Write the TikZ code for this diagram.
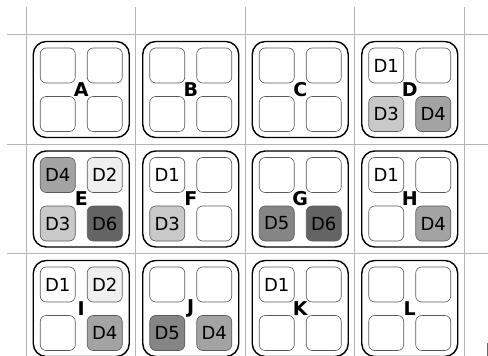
\documentclass[tikz,border=0pt]{standalone}
\usepackage{fontspec}
\setmainfont{DejaVu Sans}
\usetikzlibrary{calc}
\definecolor{cdtwo}{HTML}{EFEFEF}
\definecolor{cdthree}{HTML}{C9C9C9}
\definecolor{cdfour}{HTML}{A3A3A3}
\definecolor{cdfive}{HTML}{858585}
\definecolor{cdsix}{HTML}{646464}
\definecolor{gridc}{HTML}{B4B4B4}
\tikzset{
  gridline/.style={draw=gridc, line width=0.8pt},
  outerbox/.style={draw=black, line width=1.4pt, rounded corners=13pt, minimum width=96pt, minimum height=96pt, inner sep=0pt},
  smallbox/.style={draw=black!65, line width=0.6pt, rounded corners=6pt, minimum width=35pt, minimum height=35pt, inner sep=0pt, font=\fontsize{18}{21}\selectfont, fill=white},
  d0/.style={smallbox},
  d1/.style={smallbox},
  d2/.style={smallbox, fill=cdtwo},
  d3/.style={smallbox, fill=cdthree},
  d4/.style={smallbox, fill=cdfour},
  d5/.style={smallbox, fill=cdfive},
  d6/.style={smallbox, fill=cdsix},
  letterlab/.style={font=\fontsize{19}{22}\selectfont\bfseries, inner sep=0pt}
}
\newcommand\mylab[1]{\ifnum#1=0\relax\else D#1\fi}
\newcommand\mycell[7]{%
  \node[outerbox] (#3) at ({26+109.5*#1+55.25},{34.5+109.5*#2+55}) {};
  \node[d#4] (#3tl) at ($(#3)+(-23.5,-24)$) {\mylab{#4}};
  \node[d#5] (#3tr) at ($(#3)+(23.5,-24)$) {\mylab{#5}};
  \node[d#6] (#3bl) at ($(#3)+(-23.5,24.5)$) {\mylab{#6}};
  \node[d#7] (#3br) at ($(#3)+(23.5,24.5)$) {\mylab{#7}};
  \node[letterlab] (#3lab) at (#3) {#3};
}
\begin{document}
\begin{tikzpicture}[x=1pt,y=-1pt]
\useasboundingbox (0,0) rectangle (488,356);
\fill[white] (0,0) rectangle (488,356);
\foreach \k in {0,...,4} {
  \draw[gridline] ({26+109.5*\k},7) -- ({26+109.5*\k},356);
}
\foreach \k in {0,...,2} {
  \draw[gridline] (7,{34.5+109.5*\k}) -- (488,{34.5+109.5*\k});
}
\mycell{0}{0}{A}{0}{0}{0}{0}
\mycell{1}{0}{B}{0}{0}{0}{0}
\mycell{2}{0}{C}{0}{0}{0}{0}
\mycell{3}{0}{D}{1}{0}{3}{4}
\mycell{0}{1}{E}{4}{2}{3}{6}
\mycell{1}{1}{F}{1}{0}{3}{0}
\mycell{2}{1}{G}{0}{0}{5}{6}
\mycell{3}{1}{H}{1}{0}{0}{4}
\mycell{0}{2}{I}{1}{2}{0}{4}
\mycell{1}{2}{J}{0}{0}{5}{4}
\mycell{2}{2}{K}{1}{0}{0}{0}
\mycell{3}{2}{L}{0}{0}{0}{0}
\draw[black!60, line width=0.8pt] (487.6,343) -- (487.6,356);
\end{tikzpicture}
\end{document}
